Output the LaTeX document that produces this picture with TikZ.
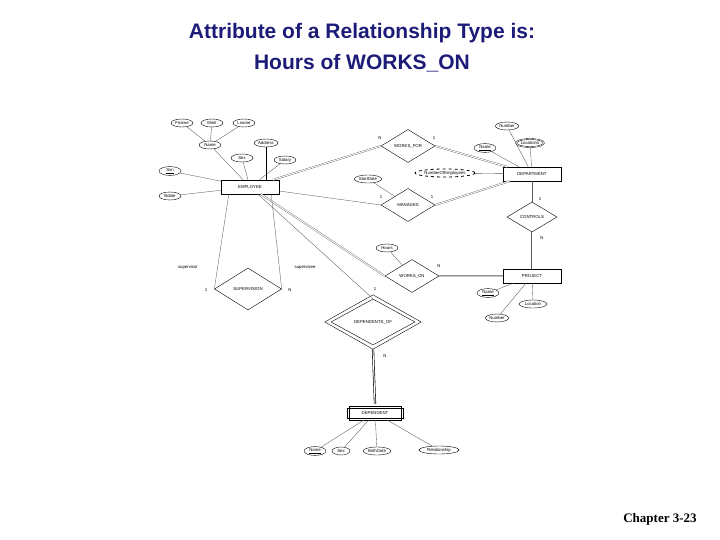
\documentclass[tikz,border=0pt]{standalone}
\usepackage{fontspec}
\setmainfont{Liberation Sans}
\newfontfamily\tms{Liberation Serif}
\usetikzlibrary{shapes.geometric}
\definecolor{ttl}{HTML}{1C1C78}
\begin{document}
\begin{tikzpicture}[x=1pt,y=-1pt,
  every node/.style={font=\fontsize{4.3}{5}\selectfont, inner sep=1pt},
  ent/.style={draw, minimum width=58pt, minimum height=14pt},
  went/.style={draw, minimum width=52pt, minimum height=14pt},
  rel/.style={draw, diamond, aspect=1.6, inner sep=0.5pt, minimum width=54pt, minimum height=33pt},
  att/.style={draw, ellipse, inner sep=0.6pt, minimum width=22pt, minimum height=8pt},
  datt/.style={att, double, double distance=0.6pt},
  drv/.style={att, dashed, thick},
  ln/.style={draw, gray!70!black, line width=0.35pt},
  dl/.style={draw, gray!70!black, double, double distance=1pt, line width=0.35pt},
  card/.style={font=\fontsize{4.3}{5}\selectfont}]
\useasboundingbox (0,0) rectangle (720,540);
\node[font=\bfseries\fontsize{21}{24}\selectfont, text=ttl] (t1) at (362,33) {Attribute of a Relationship Type is:};
\node[font=\bfseries\fontsize{21}{24}\selectfont, text=ttl] (t2) at (362,63) {Hours of WORKS\_ON};
\node[font=\tms\bfseries\fontsize{13}{15}\selectfont] (ch) at (660,519) {Chapter 3-23};

% entities
\node[ent] (emp) at (250,187) {EMPLOYEE};
\node[ent] (dept) at (532,174) {DEPARTMENT};
\node[ent] (proj) at (532,276) {PROJECT};
\node[went] (dep) at (375,413) {DEPENDENT};
\draw ([shift={(-2,2)}]dep.north west) rectangle ([shift={(2,-2)}]dep.south east);
% relationships
\node[rel] (wf) at (408,146) {WORKS\_FOR};
\node[rel] (man) at (408,205) {MANAGES};
\node[rel, minimum width=50pt, minimum height=30pt] (ctl) at (532,217) {CONTROLS};
\node[rel] (won) at (412,276) {WORKS\_ON};
\node[rel, minimum width=67pt, minimum height=42pt] (sup) at (248,289) {SUPERVISION};
\node[rel, minimum width=84pt, minimum height=46pt] (dof) at (373,322) {DEPENDENTS\_OF};
\draw ([yshift=4pt]dof.north) -- ([xshift=-6pt]dof.west) -- ([yshift=-4pt]dof.south) -- ([xshift=6pt]dof.east) -- cycle;
% attributes
\node[att] (fn) at (182,123) {Fname};
\node[att] (mi) at (212,123) {Minit};
\node[att] (lnm) at (244,123) {Lname};
\node[att] (nm) at (210,145) {Name};
\node[att] (adr) at (266,143) {Address};
\node[att] (sex) at (242,158) {Sex};
\node[att] (sal) at (285,160) {Salary};
\node[att] (ssn) at (170,171) {\underline{Ssn}};
\node[att] (bd) at (170,196) {Bdate};
\node[att] (dnum) at (507,126) {Number};
\node[att] (dnm) at (485,148) {\underline{Name}};
\node[datt] (loc) at (530,143) {Locations};
\node[drv, minimum width=58pt] (noe) at (445,173) {NumberOfEmployees};
\node[att, minimum width=26pt] (sd) at (368,179) {StartDate};
\node[att] (hrs) at (387,248) {Hours};
\node[att] (pnm) at (488,293) {\underline{Name}};
\node[att, minimum width=28pt] (ploc) at (533,304) {Location};
\node[att] (pnum) at (497,318) {Number};
\node[att] (dnn) at (315,451) {\underline{Name}};
\node[att, minimum width=18pt] (dsx) at (341,451) {Sex};
\node[att, minimum width=28pt] (dbd) at (377,451) {BirthDate};
\node[att, minimum width=40pt] (drl) at (439,450) {Relationship};
% role labels
\node (sv) at (188,267) {supervisor};
\node (se) at (305,267) {supervisee};
% attribute links
\path[ln] (fn)--(nm) (mi)--(nm) (lnm)--(nm) (nm)--(emp) (sex)--(emp) (sal)--(emp) (ssn)--(emp) (bd)--(emp);
\path[draw, line width=0.8pt] (adr)--(emp.north -| adr);
\path[ln] (dnum)--(dept) (dnm)--(dept) (loc)--(dept) (noe)--(dept) (sd)--(man) (hrs)--(won);
\path[ln] (pnm)--(proj) (ploc)--(proj) (pnum)--(proj);
\path[ln] (dnn)--(dep) (dsx)--(dep) (dbd)--(dep) (drl)--(dep);
% relationship links
\path[dl] (emp)--(wf.west) (wf.east)--(dept);
\path[ln] (emp)--(man.west);
\path[dl] (man.east)--(dept);
\path[ln] (dept)--(ctl.north);
\path[dl] (ctl.south)--(proj);
\path[dl] (emp)--(won.west) (won.east)--(proj);
\path[ln] (emp)--(dof.north);
\path[draw, double, double distance=1pt, line width=0.6pt] ([yshift=-4pt]dof.south)--([yshift=2pt]dep.north);
\path (emp.south west)+(8,0) coordinate (e1) (emp.south east)+(-8,0) coordinate (e2);
\path[ln] (e1)--(sup.west) (e2)--(sup.east);
% cardinalities
\node[card] (c1) at (380,138) {N};
\node[card] (c2) at (434,138) {1};
\node[card] (c3) at (381,197) {1};
\node[card] (c4) at (432,197) {1};
\node[card] (c5) at (540,199) {1};
\node[card] (c6) at (542,238) {N};
\node[card] (c7) at (439,266) {N};
\node[card] (c8) at (375,289) {1};
\node[card] (c9) at (385,356) {N};
\node[card] (c10) at (206,290) {1};
\node[card] (c11) at (290,290) {N};
\end{tikzpicture}
\end{document}
